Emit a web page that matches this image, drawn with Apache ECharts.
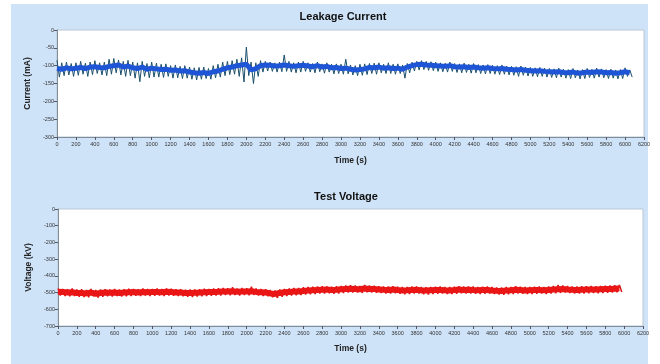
<!DOCTYPE html>
<html><head><meta charset="utf-8">
<script src="https://cdn.jsdelivr.net/npm/echarts@6/dist/echarts.min.js"></script>
<style>html,body{margin:0;padding:0;background:#fff}#c{width:660px;height:364px}</style>
</head><body><div id="c"></div>
<script>
// ---- data ----
var titles = ['Leakage Current', 'Test Voltage'];
var yNames = ['Current (mA)', 'Voltage (kV)'];
var xName = 'Time (s)';
var sampleStep = 50; // seconds between samples

// Leakage current: band centre, spike tops, spike bottoms (mA)
var curMid = [-108,-110,-106,-109,-107,-105,-108,-104,-103,-105,-106,
  -102,-100,-98,-104,-101,-106,-108,-104,-110,-107,
  -109,-111,-110,-113,-112,-115,-114,-118,-120,-121,
  -119,-122,-117,-115,-110,-106,-104,-100,-98,-96,
  -112,-108,-100,-98,-99,-101,-100,-98,-100,-102,
  -100,-99,-101,-103,-100,-104,-102,-106,-105,-108,
  -107,-110,-112,-111,-109,-105,-106,-104,-107,-106,
  -108,-107,-110,-104,-100,-97,-96,-98,-99,-100,
  -101,-102,-100,-103,-104,-103,-105,-104,-106,-107,
  -106,-108,-109,-108,-110,-111,-112,-111,-113,-114,
  -115,-114,-116,-117,-118,-117,-119,-120,-118,-121,
  -120,-118,-119,-117,-118,-120,-119,-121,-120,-117,-120];
var curHi = [-85,-92,-90,-94,-92,-88,-93,-90,-86,-92,-90,
  -82,-80,-84,-88,-85,-90,-92,-88,-94,-90,
  -93,-96,-95,-100,-98,-102,-100,-104,-106,-105,
  -104,-108,-100,-96,-90,-88,-86,-82,-78,-48,
  -90,-92,-86,-88,-90,-92,-90,-70,-88,-92,
  -90,-88,-92,-94,-90,-95,-92,-96,-95,-96,
  -82,-98,-100,-96,-95,-94,-93,-92,-96,-92,
  -96,-95,-98,-94,-90,-88,-86,-88,-89,-90,
  -92,-93,-90,-94,-95,-93,-96,-94,-97,-98,
  -97,-99,-100,-98,-101,-102,-103,-101,-104,-105,
  -106,-105,-107,-108,-109,-107,-110,-111,-108,-112,
  -111,-108,-110,-107,-109,-111,-110,-112,-111,-106,-112];
var curLo = [-132,-128,-126,-130,-127,-124,-130,-125,-122,-126,-128,
  -124,-120,-126,-130,-128,-135,-145,-130,-134,-132,
  -132,-133,-130,-135,-134,-136,-135,-138,-140,-138,
  -136,-138,-134,-132,-128,-125,-124,-130,-146,-128,
  -150,-130,-118,-115,-116,-118,-117,-116,-118,-120,
  -118,-116,-118,-120,-117,-121,-118,-123,-122,-124,
  -123,-126,-128,-127,-125,-122,-124,-120,-122,-122,
  -124,-122,-135,-120,-115,-112,-111,-113,-114,-116,
  -117,-118,-116,-119,-120,-119,-121,-120,-122,-123,
  -122,-124,-125,-124,-126,-127,-130,-127,-129,-130,
  -131,-130,-132,-133,-134,-132,-135,-136,-134,-137,
  -136,-133,-135,-132,-134,-136,-135,-137,-136,-130,-132];

// Test voltage: band centre, upper and lower edges (kV)
var voltMid = [-495,-497,-500,-498,-502,-503,-505,-500,-507,-503,
  -500,-501,-499,-502,-500,-498,-497,-499,-496,-498,
  -497,-496,-498,-495,-497,-499,-500,-502,-503,-501,
  -500,-498,-497,-496,-495,-493,-494,-492,-495,-493,
  -494,-492,-496,-498,-500,-505,-508,-502,-498,-496,
  -494,-493,-490,-488,-486,-484,-483,-482,-485,-483,
  -480,-478,-477,-478,-480,-476,-478,-479,-481,-483,
  -484,-482,-485,-487,-486,-484,-483,-487,-488,-486,
  -485,-484,-486,-487,-485,-482,-484,-483,-485,-486,
  -485,-484,-487,-489,-490,-488,-486,-483,-485,-487,
  -486,-485,-484,-486,-484,-482,-480,-478,-481,-483,
  -484,-483,-482,-481,-482,-480,-479,-478,-477,-476];
var voltHi = [-475,-478,-480,-476,-482,-480,-484,-479,-485,-482,
  -480,-482,-478,-481,-480,-477,-478,-480,-476,-479,
  -478,-476,-479,-475,-477,-480,-480,-483,-482,-481,
  -480,-477,-478,-476,-474,-472,-474,-468,-475,-472,
  -474,-465,-476,-478,-480,-484,-488,-482,-478,-475,
  -473,-472,-468,-467,-465,-464,-462,-463,-465,-462,
  -460,-457,-456,-458,-460,-455,-458,-459,-462,-463,
  -464,-462,-465,-467,-466,-463,-463,-466,-468,-466,
  -465,-463,-466,-467,-465,-462,-464,-463,-464,-466,
  -465,-463,-466,-469,-470,-467,-466,-462,-465,-467,
  -466,-465,-463,-466,-464,-460,-455,-458,-461,-463,
  -464,-462,-462,-461,-462,-460,-459,-458,-456,-455];
var voltLo = [-517,-520,-522,-520,-525,-526,-528,-522,-530,-525,
  -522,-523,-521,-524,-522,-520,-519,-521,-518,-520,
  -519,-518,-520,-517,-519,-521,-522,-525,-526,-523,
  -522,-520,-519,-518,-517,-515,-516,-514,-517,-515,
  -516,-514,-518,-520,-522,-528,-532,-525,-520,-518,
  -516,-515,-512,-510,-508,-506,-505,-504,-507,-505,
  -502,-500,-499,-500,-502,-498,-500,-501,-503,-505,
  -506,-504,-507,-510,-508,-506,-505,-510,-511,-508,
  -507,-506,-508,-509,-507,-504,-506,-505,-507,-508,
  -507,-506,-509,-511,-513,-510,-508,-505,-507,-509,
  -508,-507,-506,-508,-506,-504,-502,-500,-503,-505,
  -506,-505,-504,-503,-504,-502,-501,-500,-498,-496];

// ---- helpers ----
function midSeries(arr){ return arr.map(function(v,i){ return [i*sampleStep, v]; }); }
function zigzag(hi, lo){
  var out = [];
  for (var i=0;i<hi.length;i++){ out.push([i*sampleStep, hi[i]]); out.push([i*sampleStep+sampleStep/2, lo[i]]); }
  return out;
}
function plain(v){ return String(v); }

var font = 'Liberation Sans, Arial, sans-serif';
function xAxis(idx){
  return {gridIndex:idx, type:'value', min:0, max:6200, interval:200,
    name:xName, nameLocation:'middle', nameGap:idx===0?19:18,
    nameTextStyle:{fontFamily:font, fontWeight:'bold', fontSize:8.5, color:'#222'},
    axisLine:{show:true, onZero:false, lineStyle:{color:'#7f8c99', width:1}},
    axisTick:{show:true, length:3, lineStyle:{color:'#556'}},
    axisLabel:{fontFamily:font, fontSize:5.5, color:'#333', margin:4, formatter:plain},
    splitLine:{show:false}};
}
function yAxis(idx, min, interval){
  return {gridIndex:idx, type:'value', min:min, max:0, interval:interval,
    name:yNames[idx], nameLocation:'middle', nameGap:idx===0?25:24, nameRotate:90,
    nameTextStyle:{fontFamily:font, fontWeight:'bold', fontSize:8.5, color:'#222'},
    axisLine:{show:true, lineStyle:{color:'#7f8c99', width:1}},
    axisTick:{show:true, length:3, lineStyle:{color:'#556'}},
    axisLabel:{fontFamily:font, fontSize:5.5, color:'#333', margin:3, formatter:plain},
    splitLine:{show:false}};
}

var chart = echarts.init(document.getElementById('c'), null, {renderer:'canvas'});
chart.setOption({
  animation:false,
  backgroundColor:'#ffffff',
  graphic:[{type:'rect', z:-10, shape:{x:11, y:4, width:637, height:360}, style:{fill:'#cfe3f8'}}],
  title:[
    {text:titles[0], left:338, top:6, textAlign:'center', textStyle:{fontFamily:font, fontWeight:'bold', fontSize:11, color:'#111'}},
    {text:titles[1], left:341, top:186, textAlign:'center', textStyle:{fontFamily:font, fontWeight:'bold', fontSize:11, color:'#111'}}
  ],
  grid:[
    {left:57, width:587, top:30, height:107, show:true, backgroundColor:'#ffffff', borderColor:'#b9c6d3', borderWidth:1},
    {left:58, width:585, top:209, height:117, show:true, backgroundColor:'#ffffff', borderColor:'#b9c6d3', borderWidth:1}
  ],
  xAxis:[xAxis(0), xAxis(1)],
  yAxis:[yAxis(0, -300, 50), yAxis(1, -700, 100)],
  series:[
    {type:'line', xAxisIndex:0, yAxisIndex:0, data:zigzag(curHi, curLo), showSymbol:false, symbol:'none',
      lineStyle:{color:'#1b4f6b', width:1}},
    {type:'line', xAxisIndex:0, yAxisIndex:0, data:midSeries(curMid), showSymbol:false, symbol:'none',
      lineStyle:{color:'#1e55d6', width:5}},
    {type:'line', xAxisIndex:1, yAxisIndex:1, data:zigzag(voltHi, voltLo), showSymbol:false, symbol:'none',
      lineStyle:{color:'#d81818', width:1.5}},
    {type:'line', xAxisIndex:1, yAxisIndex:1, data:midSeries(voltMid), showSymbol:false, symbol:'none',
      lineStyle:{color:'#ea1515', width:6}}
  ]
});
</script></body></html>
